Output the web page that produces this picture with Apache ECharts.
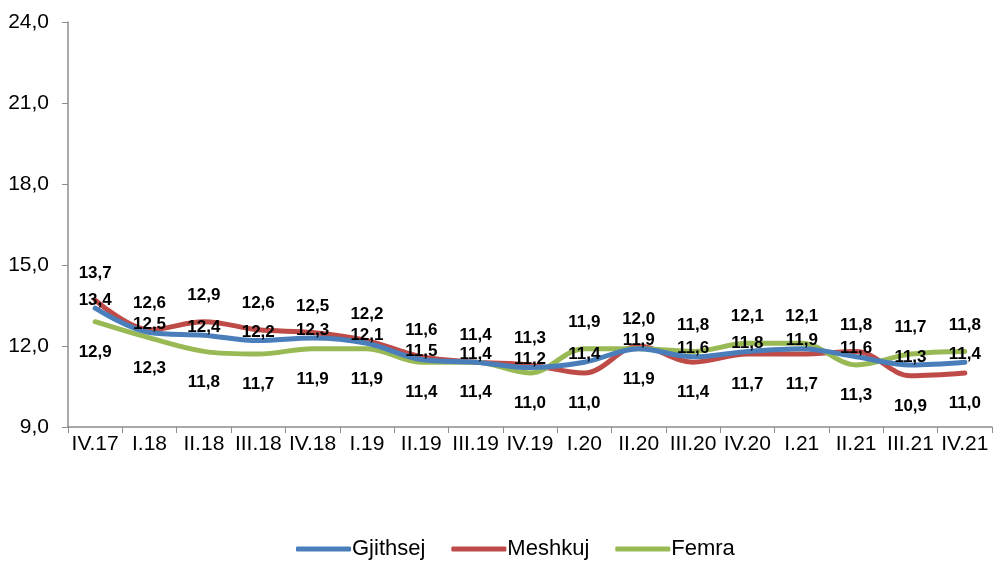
<!DOCTYPE html>
<html>
<head>
<meta charset="utf-8">
<script src="https://cdn.jsdelivr.net/npm/echarts@6/dist/echarts.min.js"></script>
<style>
html,body{margin:0;padding:0;background:#fff;}
#chart{width:1005px;height:563px;}
</style>
</head>
<body>
<div id="chart"></div>
<script>
const categories = ['IV.17','I.18','II.18','III.18','IV.18','I.19','II.19','III.19','IV.19','I.20','II.20','III.20','IV.20','I.21','II.21','III.21','IV.21'];
const gjithsej = [13.4,12.5,12.4,12.2,12.3,12.1,11.5,11.4,11.2,11.4,11.9,11.6,11.8,11.9,11.6,11.3,11.4];
const meshkuj  = [13.7,12.6,12.9,12.6,12.5,12.2,11.6,11.4,11.3,11.0,12.0,11.4,11.7,11.7,11.8,10.9,11.0];
const femra    = [12.9,12.3,11.8,11.7,11.9,11.9,11.4,11.4,11.0,11.9,11.9,11.8,12.1,12.1,11.3,11.7,11.8];
const yTicks = { min: 9, max: 24, interval: 3 };

const FONT = 'Liberation Sans, Arial, sans-serif';
const fmt = v => v.toFixed(1).replace('.', ',');
const labelStyle = { fontFamily: FONT, fontSize: 17, fontWeight: 'bold', color: '#000' };

function sideData(values, other, isMale) {
  return values.map((v, i) => {
    const top = v > other[i] || (v === other[i] && isMale);
    return {
      value: v,
      label: top
        ? { show: true, position: 'top', distance: 18, formatter: p => fmt(p.value), ...labelStyle }
        : { show: true, position: 'bottom', distance: 22, formatter: p => fmt(p.value), ...labelStyle }
    };
  });
}

const common = { type: 'line', smooth: 0.35, symbol: 'circle', symbolSize: 0, showSymbol: true };

const chart = echarts.init(document.getElementById('chart'));
chart.setOption({
  animation: false,
  backgroundColor: '#fff',
  grid: { left: 68, right: 13, top: 22, bottom: 136 },
  legend: {
    top: 533, left: 291,
    icon: 'roundRect', itemWidth: 55, itemHeight: 5, itemGap: 26,
    textStyle: { fontFamily: FONT, fontSize: 22, color: '#000', padding: [0,0,0,-4] },
    data: ['Gjithsej','Meshkuj','Femra']
  },
  xAxis: {
    type: 'category', data: categories, boundaryGap: true,
    axisLine: { lineStyle: { color: '#8c8c8c', width: 1.5 } },
    axisTick: { show: true, length: 6, lineStyle: { color: '#8c8c8c' } },
    axisLabel: { fontFamily: FONT, fontSize: 21, color: '#000', margin: 7, interval: 0 }
  },
  yAxis: {
    type: 'value', min: yTicks.min, max: yTicks.max, interval: yTicks.interval,
    splitLine: { show: false },
    axisLine: { show: true, lineStyle: { color: '#8c8c8c', width: 1.5 } },
    axisTick: { show: true, length: 6, lineStyle: { color: '#8c8c8c' } },
    axisLabel: { fontFamily: FONT, fontSize: 21, color: '#000', margin: 19, formatter: v => fmt(v) }
  },
  series: [
    Object.assign({}, common, {
      name: 'Gjithsej',
      lineStyle: { width: 5, color: '#4a7ebb', cap: 'round' }, itemStyle: { color: '#4a7ebb' },
      data: gjithsej,
      label: { show: true, position: 'inside', offset: [0, -8], formatter: p => fmt(p.value), ...labelStyle },
      z: 3
    }),
    Object.assign({}, common, {
      name: 'Meshkuj',
      lineStyle: { width: 5, color: '#be4b48', cap: 'round' }, itemStyle: { color: '#be4b48' },
      data: sideData(meshkuj, femra, true), z: 2
    }),
    Object.assign({}, common, {
      name: 'Femra',
      lineStyle: { width: 5, color: '#98b954', cap: 'round' }, itemStyle: { color: '#98b954' },
      data: sideData(femra, meshkuj, false), z: 2
    })
  ]
});
</script>
</body>
</html>
